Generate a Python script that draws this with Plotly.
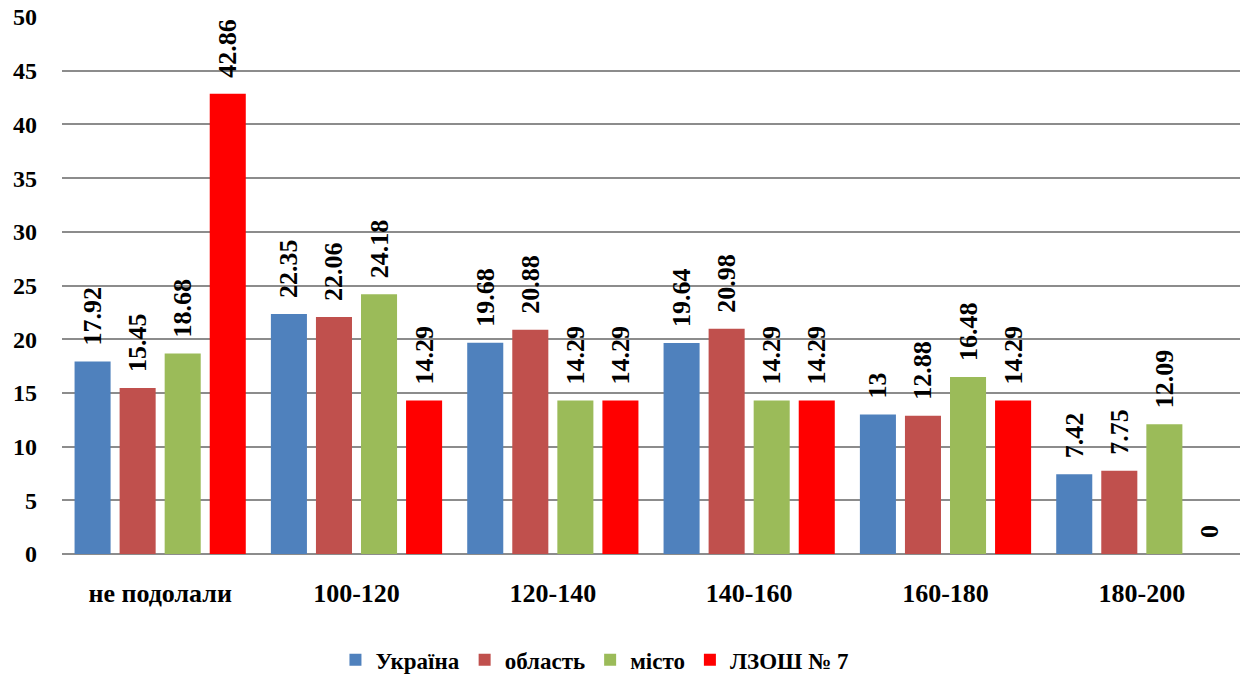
import plotly.graph_objects as go

categories = ["не подолали", "100-120", "120-140", "140-160", "160-180", "180-200"]
series_names = ["Україна", "область", "місто", "ЛЗОШ № 7"]
ukraine = [17.92, 22.35, 19.68, 19.64, 13, 7.42]
oblast = [15.45, 22.06, 20.88, 20.98, 12.88, 7.75]
misto = [18.68, 24.18, 14.29, 14.29, 16.48, 12.09]
school = [42.86, 14.29, 14.29, 14.29, 14.29, 0]
colors = ["#4F81BD", "#C0504D", "#9BBB59", "#FF0000"]

FONT = "Liberation Serif"
fig = go.Figure()
for name, vals, c in zip(series_names, [ukraine, oblast, misto, school], colors):
    fig.add_trace(go.Bar(
        x=categories, y=vals, name=name, marker_color=c, marker_line_width=0,
        text=[f"\u00a0\u00a0{v:g}" for v in vals], textposition="outside", textangle=-90,
        constraintext="none", cliponaxis=False,
        textfont=dict(family=FONT, size=26, color="black", weight="bold"),
    ))

fig.update_layout(
    width=1251, height=680,
    margin=dict(l=62, r=11, t=17, b=126, autoexpand=False),
    plot_bgcolor="white", paper_bgcolor="white",
    barmode="group", bargap=0.082, bargroupgap=0.2,
    font=dict(family=FONT, size=24, color="black", weight="bold"),
    legend=dict(orientation="h", x=0.452, xanchor="center", y=-0.197, yanchor="middle",
                font=dict(family=FONT, size=23, color="black", weight="bold"),
                itemwidth=30, traceorder="normal"),
    showlegend=True,
)
fig.update_xaxes(showgrid=False, showline=False, ticks="",
                 tickfont=dict(family=FONT, size=26, color="black", weight="bold"), ticklabelstandoff=21)
fig.update_yaxes(range=[0, 50], dtick=5, showgrid=True, gridcolor="#8C8C8C", gridwidth=2,
                 zeroline=True, zerolinecolor="#8C8C8C", zerolinewidth=2,
                 showline=False, ticks="", ticklabeloverflow="allow",
                 tickfont=dict(family=FONT, size=24, color="black", weight="bold"), ticklabelstandoff=24)
fig.write_html("out.html", config={"displayModeBar": False},
               post_script="document.body.style.margin='0';document.body.style.overflow='hidden';")
